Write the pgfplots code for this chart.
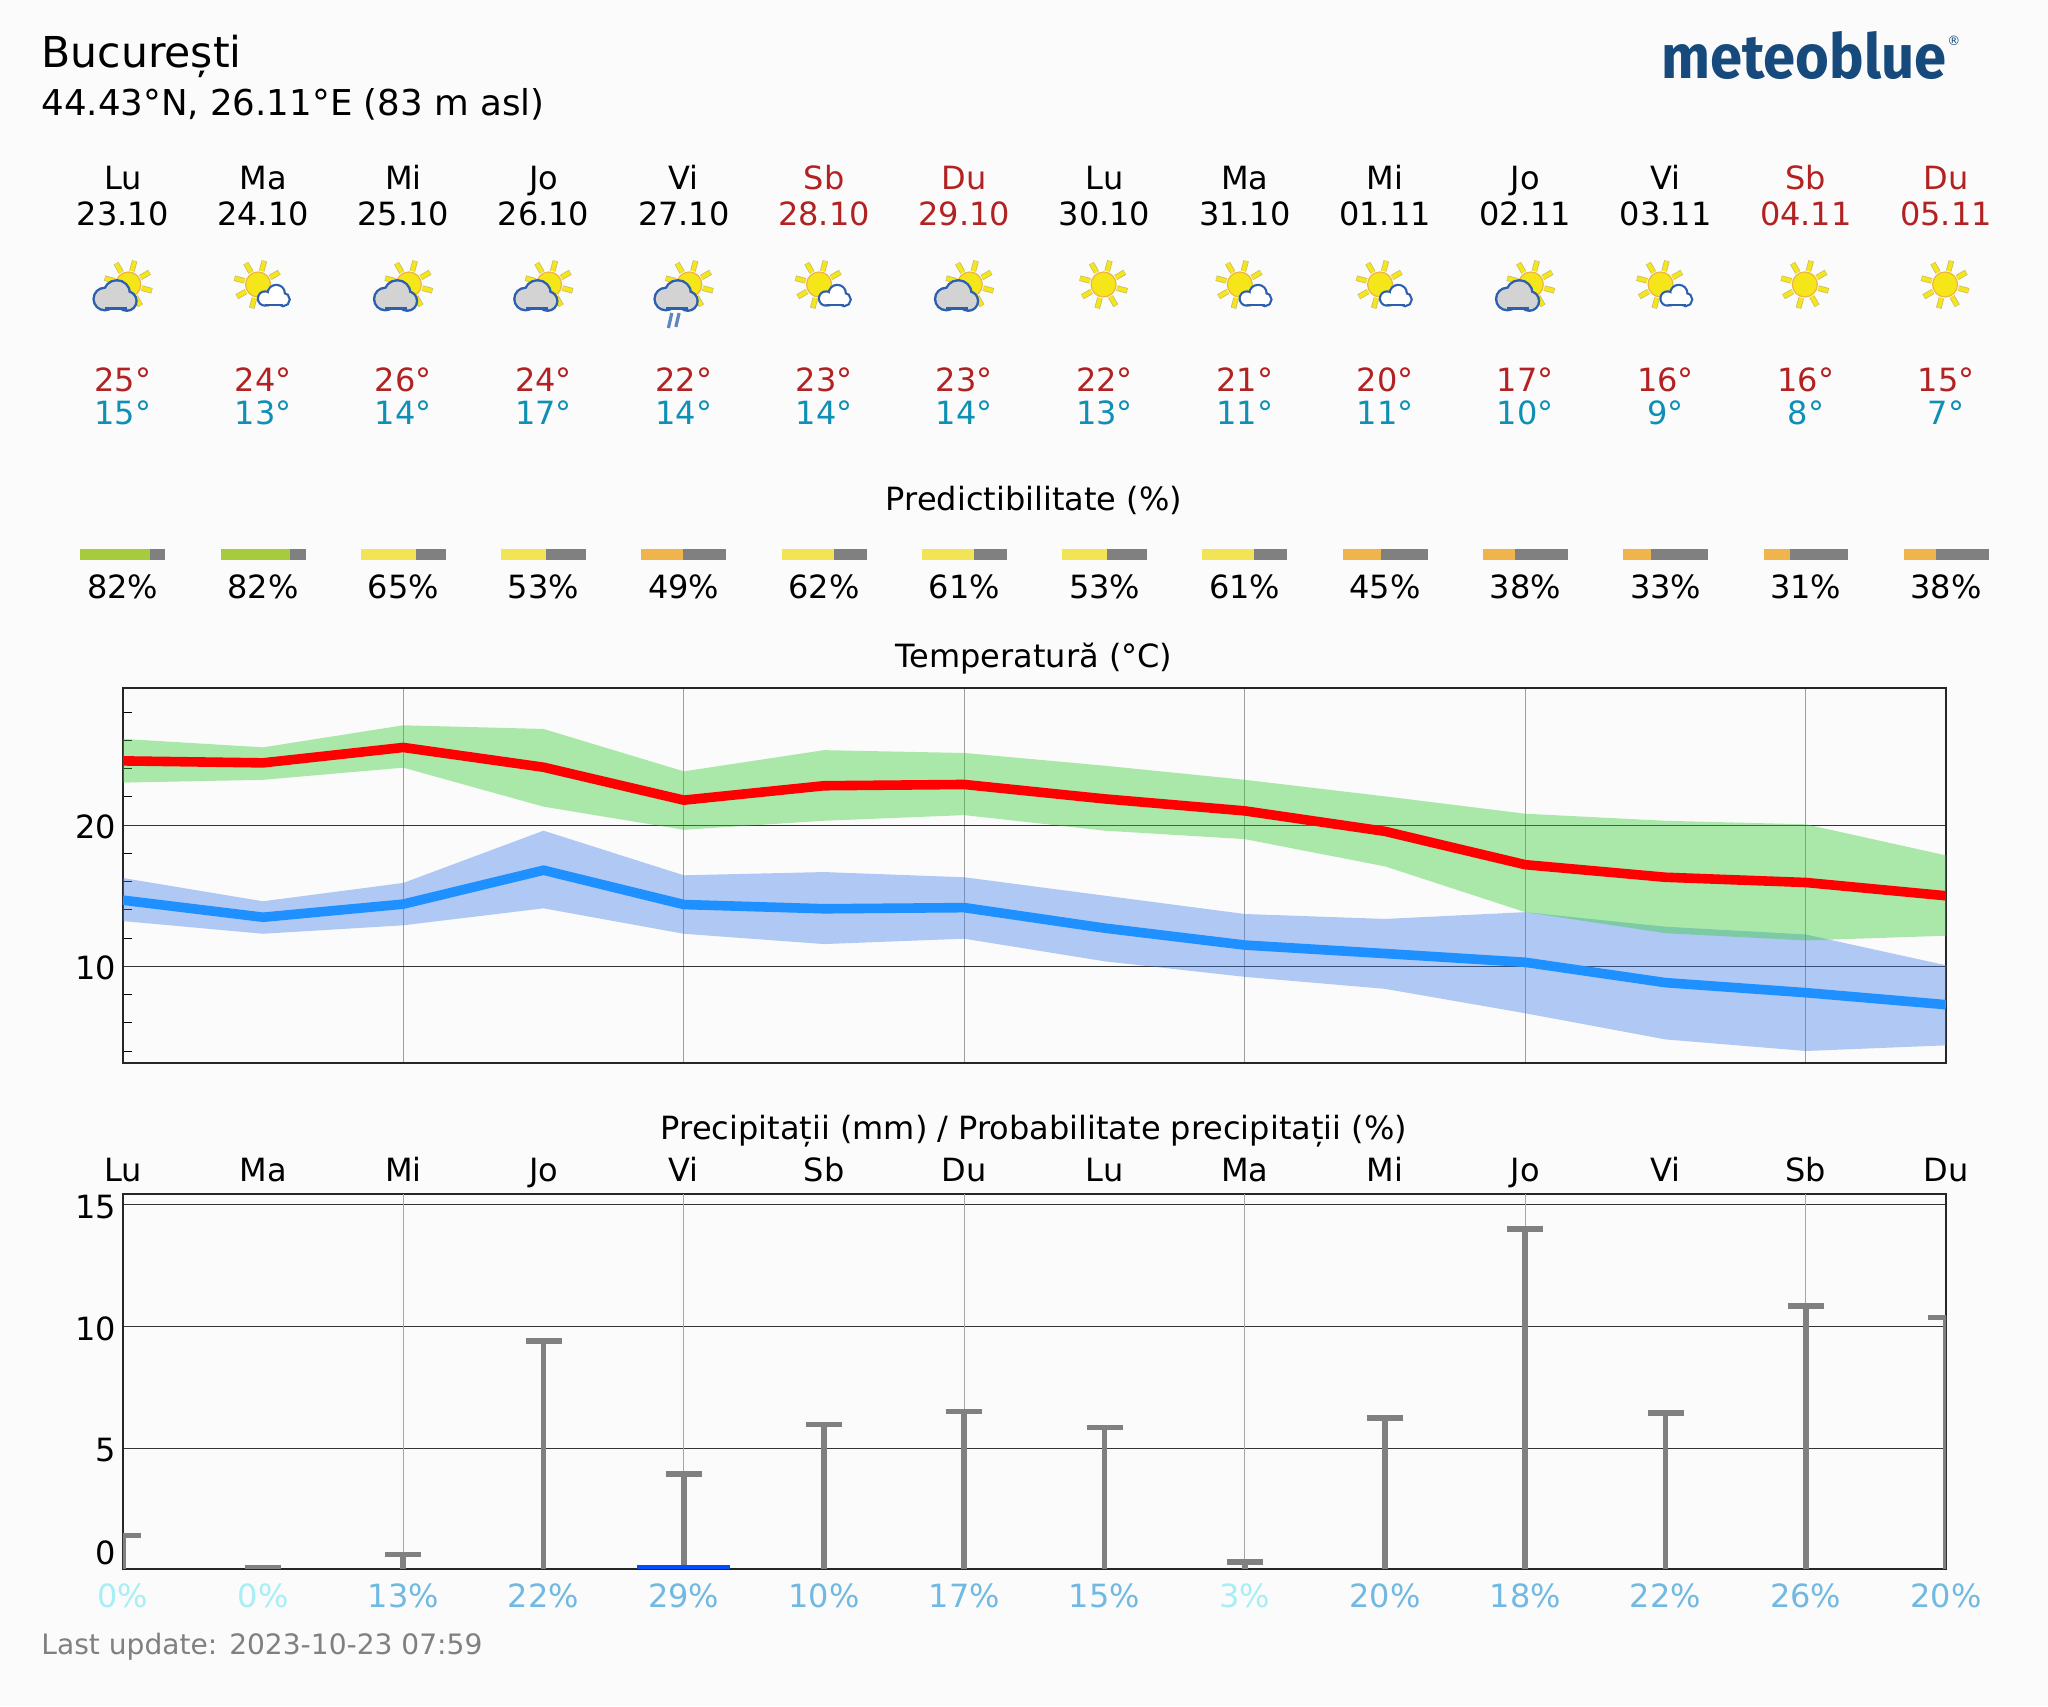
\documentclass[border=0pt]{standalone}
\usepackage{fontspec}
\setmainfont{DejaVu Sans}
\newfontfamily\logofont{Fira Sans}
\usepackage{pgfplots}
\usepackage{pgfplotstable}
\pgfplotsset{compat=1.18}

\definecolor{bg}{HTML}{FBFBFB}
\definecolor{logoblue}{HTML}{174A7C}
\definecolor{wkred}{HTML}{B22222}
\definecolor{mincol}{HTML}{0F8FB5}
\definecolor{predg}{HTML}{A6CB3D}
\definecolor{predy}{HTML}{F2E455}
\definecolor{predo}{HTML}{F0B44C}
\definecolor{predn}{HTML}{808080}
\definecolor{pctlo}{HTML}{A8EEF5}
\definecolor{pcthi}{HTML}{70B9E2}
\definecolor{blueband}{RGB}{65,125,235}
\definecolor{greenband}{RGB}{50,205,50}
\definecolor{minline}{HTML}{1E90FF}
\definecolor{sunfill}{HTML}{F5E61A}
\definecolor{sunedge}{HTML}{F2B33C}
\definecolor{rayedge}{HTML}{C9BC6A}
\definecolor{cloudline}{HTML}{2C5FB0}
\definecolor{cloudgrey}{HTML}{D3D3D3}
\definecolor{rain}{HTML}{5F86C0}

\newcommand\fs[1]{\fontsize{#1}{#1}\selectfont}

% mean max and min temperature per day
\pgfplotstableread{
i  maxm  minm
0  24.54 14.68
1  24.40 13.47
2  25.49 14.40
3  24.09 16.80
4  21.76 14.37
5  22.78 14.07
6  22.87 14.15
7  21.85 12.70
8  21.00 11.50
9  19.55 10.90
10 17.19 10.28
11 16.30  8.84
12 15.93  8.13
13 14.99  7.28
}\temps

% bands as closed outlines: upper edge, then lower edge backwards
\pgfplotstableread{
i  t
0  16.25
1  14.60
2  15.90
3  19.60
4  16.44
5  16.67
6  16.30
7  15.00
8  13.70
9  13.35
10 13.83
11 12.80
12 12.25
13 10.07
13 4.40
12 4.00
11 4.82
10 6.67
9  8.40
8  9.25
7  10.35
6  11.95
5  11.57
4  12.30
3  14.10
2  12.90
1  12.30
0  13.20
}\minband

\pgfplotstableread{
i  t
0  26.10
1  25.50
2  27.06
3  26.80
4  23.80
5  25.30
6  25.10
7  24.20
8  23.20
9  22.03
10 20.80
11 20.30
12 20.05
13 17.85
13 12.16
12 11.83
11 12.34
10 13.83
9  17.07
8  19.00
7  19.60
6  20.70
5  20.30
4  19.66
3  21.30
2  24.06
1  23.20
0  23.00
}\maxband

% day, base, whisker length
\pgfplotstableread{
i  bar whisk
0  0   1.40
1  0   0.10
2  0   0.63
3  0   9.39
4  0.2 3.74
5  0   5.96
6  0   6.50
7  0   5.85
8  0   0.33
9  0   6.23
10 0   14.00
11 0   6.45
12 0   10.84
13 0   10.36
}\precip

\newcommand\predbar[3]{%
  \pgfmathsetmacro\xa{#1-0.3026}%
  \pgfmathsetmacro\xb{#1-0.3026+0.6052*#2/100}%
  \pgfmathsetmacro\xc{#1+0.3026}%
  \addplot[fill=#3,draw=none] coordinates {(\xa,0)(\xa,1)(\xb,1)(\xb,0)} -- cycle;
  \addplot[fill=predn,draw=none] coordinates {(\xb,0)(\xb,1)(\xc,1)(\xc,0)} -- cycle;
}

% weather icons, drawn in pixel units round the column centre
\newcommand\sunicon[2]{%
  \foreach \a in {30,75,...,345}{
    \draw[rayedge,line width=2.8pt] (#1,#2)++(-\a:14)--++(-\a:10.5);
    \draw[sunfill,line width=2pt] (#1,#2)++(-\a:14)--++(-\a:10);
  }
  \fill[sunfill,draw=sunedge,line width=0.6pt] (#1,#2) circle (12.5);
}
\newcommand\greycloud[1]{%
  \foreach \x/\y/\r in {-18/299/10,-6/293.5/12,4/301/8.5}{
    \draw[cloudline,line width=2.4pt] (#1+\x,\y) circle (\r);
  }
  \foreach \x/\y/\r in {-18/299/10,-6/293.5/12,4/301/8.5}{
    \fill[cloudgrey] (#1+\x,\y) circle (\r);
  }
  \fill[cloudgrey] (#1-18,297) rectangle (#1+4,307.5);
  \draw[cloudline,line width=1.2pt] (#1-18,308.4)--(#1+4,308.4);
}
\newcommand\whitecloud[1]{%
  \foreach \x/\y/\r in {2/298.5/6,13.2/293.5/7.5,20/299.5/5.5}{
    \draw[cloudline,line width=2.2pt] (#1+\x,\y) circle (\r);
  }
  \foreach \x/\y/\r in {2/298.5/6,13.2/293.5/7.5,20/299.5/5.5}{
    \fill[white] (#1+\x,\y) circle (\r);
  }
  \fill[white] (#1+2,299) rectangle (#1+20,304.5);
  \draw[cloudline,line width=1.1pt] (#1+2,305)--(#1+20,305);
}

\begin{document}
\begin{tikzpicture}
\fill[bg] (0,0) rectangle (1024pt,-853pt);

\begin{scope}[x=0.5pt,y=-0.5pt]
  \node[anchor=base west,inner sep=0pt] at (41,68) {\fs{21.3}București};
  \node[anchor=base west,inner sep=0pt] at (41,116) {\fs{17.8}44.43°N, 26.11°E (83 m asl)};
  \node[anchor=base east,inner sep=0pt,logoblue] at (1947,79)
    {\scalebox{0.935}[1]{\logofont\bfseries\fs{31}meteoblue}};
  \node[anchor=base west,inner sep=0pt,logoblue] at (1947,46) {\fs{6.5}®};

  \foreach \i/\d/\dt/\mx/\mn/\pr/\pc [evaluate=\i as \cx using 122.8+140.25*\i] in {
     0/Lu/23.10/25/15/82/black,
     1/Ma/24.10/24/13/82/black,
     2/Mi/25.10/26/14/65/black,
     3/Jo/26.10/24/17/53/black,
     4/Vi/27.10/22/14/49/black,
     5/Sb/28.10/23/14/62/wkred,
     6/Du/29.10/23/14/61/wkred,
     7/Lu/30.10/22/13/53/black,
     8/Ma/31.10/21/11/61/black,
     9/Mi/01.11/20/11/45/black,
     10/Jo/02.11/17/10/38/black,
     11/Vi/03.11/16/9/33/black,
     12/Sb/04.11/16/8/31/wkred,
     13/Du/05.11/15/7/38/wkred}{
    \node[anchor=base,inner sep=0pt,text=\pc] at (\cx,190) {\fs{16}\d};
    \node[anchor=base,inner sep=0pt,text=\pc] at (\cx,226) {\fs{16}\dt};
    \node[anchor=base,inner sep=0pt,text=wkred] at (\cx,391) {\fs{16}\mx°};
    \node[anchor=base,inner sep=0pt,text=mincol] at (\cx,424) {\fs{16}\mn°};
    \node[anchor=base,inner sep=0pt] at (\cx,598) {\fs{16}\pr\%};
    \node[anchor=base,inner sep=0pt,text=black] at (\cx,1181) {\fs{16}\d};
  }

  \foreach \i in {0,2,3,4,6,10}{
    \pgfmathsetmacro\cx{122.8+140.25*\i}
    \sunicon{\cx+5.5}{284.5}
    \greycloud{\cx}
  }
  \pgfmathsetmacro\cx{122.8+140.25*4}
  \draw[rain,line width=1.6pt] (\cx-12,313)--(\cx-15.4,328);
  \draw[rain,line width=1.6pt] (\cx-4.7,313)--(\cx-8,327);
  \foreach \i in {1,5,8,9,11}{
    \pgfmathsetmacro\cx{122.8+140.25*\i}
    \sunicon{\cx-5}{284.5}
    \whitecloud{\cx}
  }
  \foreach \i in {7,12,13}{
    \pgfmathsetmacro\cx{122.8+140.25*\i}
    \sunicon{\cx-1}{284.5}
  }

  \node[anchor=base,inner sep=0pt] at (1034,510) {\fs{16}Predictibilitate (\%)};
  \node[anchor=base,inner sep=0pt] at (1034,667) {\fs{16}Temperatură (°C)};
  \node[anchor=base,inner sep=0pt] at (1034,1139) {\fs{16}Precipitații (mm) / Probabilitate precipitații (\%)};
  \node[anchor=base west,inner sep=0pt,text=predn] at (41,1654) {\fs{14.05}Last update: 2023-10-23 07:59};
\end{scope}

% predictability strip
\begin{axis}[
  at={(26.35pt,-274.5pt)}, anchor=north west,
  scale only axis, width=981.8pt, height=5.5pt,
  hide axis, clip=false,
  xmin=-0.5, xmax=13.5, ymin=0, ymax=1,
]
\predbar{0}{82}{predg}
\predbar{1}{82}{predg}
\predbar{2}{65}{predy}
\predbar{3}{53}{predy}
\predbar{4}{49}{predo}
\predbar{5}{62}{predy}
\predbar{6}{61}{predy}
\predbar{7}{53}{predy}
\predbar{8}{61}{predy}
\predbar{9}{45}{predo}
\predbar{10}{38}{predo}
\predbar{11}{33}{predo}
\predbar{12}{31}{predo}
\predbar{13}{38}{predo}
\end{axis}

% temperature
\begin{axis}[
  at={(61.4pt,-344pt)}, anchor=north west,
  scale only axis, width=911.6pt, height=187.5pt,
  xmin=0, xmax=13, ymin=3.15, ymax=29.7,
  xtick={2,4,...,12}, xticklabels={},
  ytick={10,20},
  minor ytick={4,6,8,12,14,16,18,22,24,26,28},
  tick pos=left, tick align=inside,
  major tick length=0pt, minor tick length=4.5pt,
  minor tick style={black,line width=0.5pt},
  xmajorgrids, ymajorgrids,
  /pgf/number format/assume math mode=true,
  tick label style={font=\fs{16}},
  yticklabel style={yshift=-0.7pt},
  axis line style={line width=1pt,color=black!85},
  x grid style={color=black!38,line width=0.6pt},
  y grid style={color=black!80,line width=0.5pt},
]
\addplot[fill=blueband,fill opacity=0.4,draw=none] table[x=i,y=t] {\minband} -- cycle;
\addplot[fill=greenband,fill opacity=0.4,draw=none] table[x=i,y=t] {\maxband} -- cycle;
\addplot[red,line width=4.8pt] table[x=i,y=maxm] {\temps};
\addplot[minline,line width=4.8pt] table[x=i,y=minm] {\temps};
\end{axis}

% precipitation
\begin{axis}[
  at={(61.4pt,-596.85pt)}, anchor=north west,
  scale only axis, width=911.6pt, height=187.4pt,
  xmin=0, xmax=13, ymin=0.05, ymax=15.45,
  xtick={0,...,13},
  xticklabels={
    \textcolor{pctlo}{0\%},\textcolor{pctlo}{0\%},\textcolor{pcthi}{13\%},
    \textcolor{pcthi}{22\%},\textcolor{pcthi}{29\%},\textcolor{pcthi}{10\%},
    \textcolor{pcthi}{17\%},\textcolor{pcthi}{15\%},\textcolor{pctlo}{3\%},
    \textcolor{pcthi}{20\%},\textcolor{pcthi}{18\%},\textcolor{pcthi}{22\%},
    \textcolor{pcthi}{26\%},\textcolor{pcthi}{20\%}},
  xticklabel style={yshift=-4pt},
  ytick={5,10,15},
  extra y ticks={0.05}, extra y tick labels={0},
  extra y tick style={grid=none,yticklabel style={yshift=9pt}},
  extra x ticks={2,4,...,12}, extra x tick labels={},
  extra x tick style={xmajorgrids=true,x grid style={color=black!35,line width=0.4pt}},
  tick pos=left, major tick length=0pt,
  ymajorgrids,
  /pgf/number format/assume math mode=true,
  tick label style={font=\fs{16}},
  yticklabel style={yshift=-1pt},
  axis line style={line width=1pt,color=black!85},
  y grid style={color=black!80,line width=0.5pt},
]
\addplot[ybar,bar shift=0pt,bar width=46.5pt,fill=blue!70!cyan,draw=none] coordinates {(4,0.2)};
\addplot[draw=none,mark=none,
  error bars/.cd, y dir=plus, y explicit,
  error bar style={line width=2.8pt,color=predn},
  error mark options={rotate=90,mark size=9pt,line width=2.8pt,color=predn},
] table[x=i,y=bar,y error plus=whisk] {\precip};
\end{axis}
\end{tikzpicture}
\end{document}
